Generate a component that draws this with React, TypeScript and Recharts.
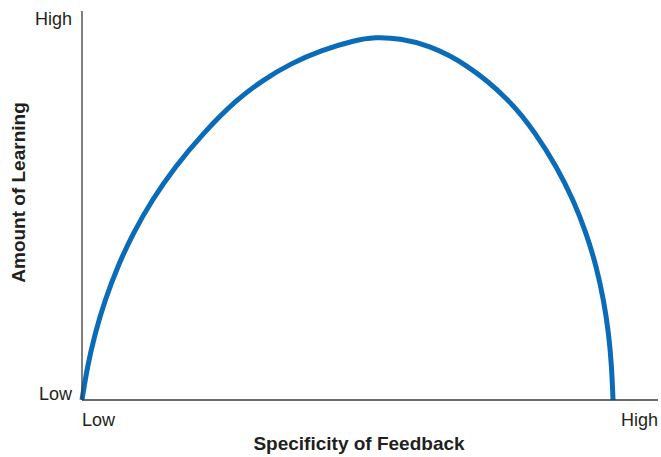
import { LineChart, Line, XAxis, YAxis, Label } from "recharts"

// ─── Data ──────────────────────────────────────────────────────────────────────

// specificity of feedback (0 = low, 100 = high)
const specificity = [
  0, 0.92, 2.26, 3.99, 6.16, 8.85, 12.15, 16.15, 21.01, 26.74, 31.42, 36.28,
  41.67, 47.22, 50.87, 55.21, 60.07, 66.67, 74.34, 78.77, 82.41, 85.31, 87.57,
  89.31, 90.57, 91.44, 91.96, 92.19,
]

// amount of learning (0 = low, 100 = high)
const learning = [
  0, 8.56, 17.15, 25.71, 34.27, 42.85, 51.41, 59.97, 68.56, 77.12, 82.26, 86.56,
  89.97, 92.42, 93.32, 92.93, 91.26, 86.56, 77.12, 68.56, 59.97, 51.41, 42.85,
  34.27, 25.71, 17.15, 8.56, 0,
]

const xTickLabels = ["Low", "High"]
const yTickLabels = ["Low", "High"]
const axisTicks = [0, 100]

const data = specificity.map((x, i) => ({ x, y: learning[i] }))

// ─── Styles ────────────────────────────────────────────────────────────────────

const FONT = "'Liberation Sans', Arial, Helvetica, sans-serif"
const TEXT = "#231f20"
const AXIS = "#3a3a3a"
const CURVE = "#0a6cb8"

function XTick({ x, y, payload }: any) {
  const idx = axisTicks.indexOf(payload.value)
  const tx = payload.coordinate ?? x
  return (
    <text
      x={tx}
      y={y + 18}
      textAnchor={idx === 0 ? "start" : "end"}
      fill={TEXT}
      fontFamily={FONT}
      fontSize={18}
    >
      {xTickLabels[idx]}
    </text>
  )
}

function YTick({ x, y, payload }: any) {
  const idx = axisTicks.indexOf(payload.value)
  return (
    <text
      x={x - 2}
      y={idx === 0 ? y : y + 14}
      textAnchor="end"
      fill={TEXT}
      fontFamily={FONT}
      fontSize={18}
    >
      {yTickLabels[idx]}
    </text>
  )
}

export default function App() {
  return (
    <div style={{ position: "absolute", left: 0, top: 0, background: "#fff" }}>
      <LineChart
        width={661}
        height={457}
        data={data}
        margin={{ top: 11, right: 3, bottom: 0, left: 0 }}
      >
        <XAxis
          type="number"
          dataKey="x"
          domain={[0, 100]}
          ticks={axisTicks}
          tick={<XTick />}
          tickLine={false}
          axisLine={{ stroke: AXIS, strokeWidth: 1.3 }}
          height={57}
        >
          <Label
            content={({ viewBox }: any) => (
              <text
                x={viewBox.x + viewBox.width / 2 - 11}
                y={viewBox.y + 50}
                textAnchor="middle"
                fill={TEXT}
                fontFamily={FONT}
                fontSize={19}
                fontWeight="bold"
              >
                Specificity of Feedback
              </text>
            )}
          />
        </XAxis>
        <YAxis
          type="number"
          dataKey="y"
          domain={[0, 100]}
          ticks={axisTicks}
          tick={<YTick />}
          tickLine={false}
          axisLine={{ stroke: AXIS, strokeWidth: 1.3 }}
          width={82}
        >
          <Label
            content={({ viewBox }: any) => {
              const cx = 25
              const cy = viewBox.y + viewBox.height / 2 - 13
              return (
                <text
                  x={cx}
                  y={cy}
                  transform={`rotate(-90, ${cx}, ${cy})`}
                  textAnchor="middle"
                  fill={TEXT}
                  fontFamily={FONT}
                  fontSize={19}
                  fontWeight="bold"
                >
                  Amount of Learning
                </text>
              )
            }}
          />
        </YAxis>
        <Line
          type="basis"
          dataKey="y"
          stroke={CURVE}
          strokeWidth={5}
          dot={false}
          activeDot={false}
          isAnimationActive={false}
        />
      </LineChart>
    </div>
  )
}
